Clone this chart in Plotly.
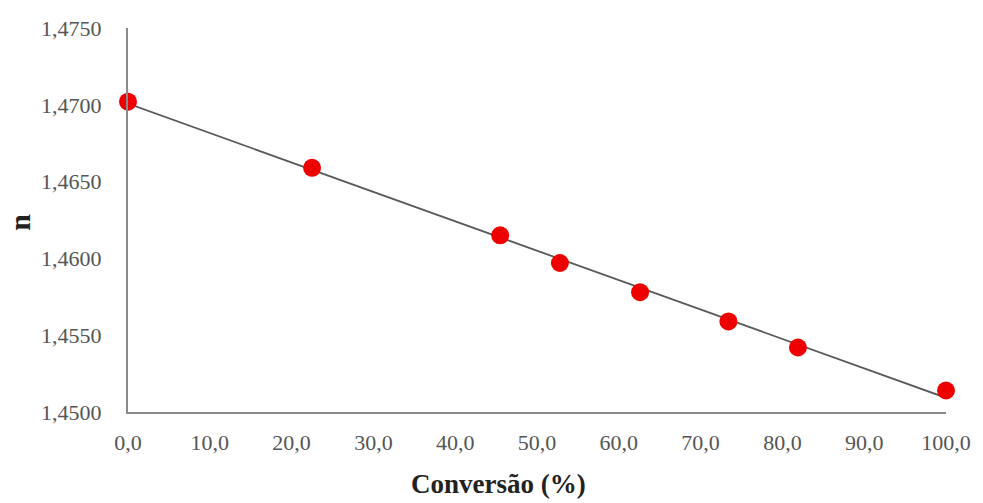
import numpy as np
import plotly.graph_objects as go

conversao = [0.0, 22.5, 45.5, 52.8, 62.6, 73.4, 81.9, 100.0]
n_values = [1.4702, 1.4659, 1.4615, 1.4597, 1.4578, 1.4559, 1.4542, 1.4514]
x_ticks = [0, 10, 20, 30, 40, 50, 60, 70, 80, 90, 100]
y_ticks = [1.4500, 1.4550, 1.4600, 1.4650, 1.4700, 1.4750]

slope, intercept = np.polyfit(conversao, n_values, 1)
trend_x = [0.0, 100.0]
trend_y = [intercept + slope * v for v in trend_x]

L, R, T, B = 128, 31, 28, 91
W, H = 983, 503
pw = W - L - R
ph = H - T - B

fig = go.Figure()
fig.add_trace(go.Scatter(x=trend_x, y=trend_y, mode="lines",
                         line=dict(color="#5a5a5a", width=1.8),
                         hoverinfo="skip", showlegend=False))
fig.add_trace(go.Scatter(x=conversao, y=n_values, mode="markers",
                         marker=dict(color="#ee0000", size=18, line=dict(width=0)),
                         cliponaxis=False, showlegend=False))

font = "Liberation Serif, Times New Roman, serif"
fig.update_layout(
    width=W, height=H,
    margin=dict(l=L, r=R, t=T, b=B),
    paper_bgcolor="white", plot_bgcolor="white",
    separators=",.",
    font=dict(family=font, size=22, color="#555555"),
    xaxis=dict(range=[0, 100], tickvals=x_ticks, tickformat=".1f",
               showgrid=False, zeroline=False, showline=True,
               linecolor="#8a8a8a", linewidth=2, ticks="",
               ticklabelstandoff=10, tickfont=dict(size=22, color="#555555")),
    yaxis=dict(range=[1.45, 1.475], tickvals=y_ticks, tickformat=".4f",
               showgrid=False, zeroline=False, showline=True,
               linecolor="#8a8a8a", linewidth=2, ticks="",
               ticklabelstandoff=20, tickfont=dict(size=22, color="#555555")),
    annotations=[
        dict(text="<b>Conversão (%)</b>", showarrow=False,
             xref="paper", yref="paper",
             x=(501 - L) / pw, y=(H - B - 484) / ph,
             xanchor="center", yanchor="middle",
             font=dict(family=font, size=27, color="#222222")),
        dict(text="<b>n</b>", textangle=-90, showarrow=False,
             xref="paper", yref="paper",
             x=(19 - L) / pw, y=(H - B - 222) / ph,
             xanchor="center", yanchor="middle",
             font=dict(family=font, size=30, color="#222222")),
    ],
)
fig.write_html("out.html")
